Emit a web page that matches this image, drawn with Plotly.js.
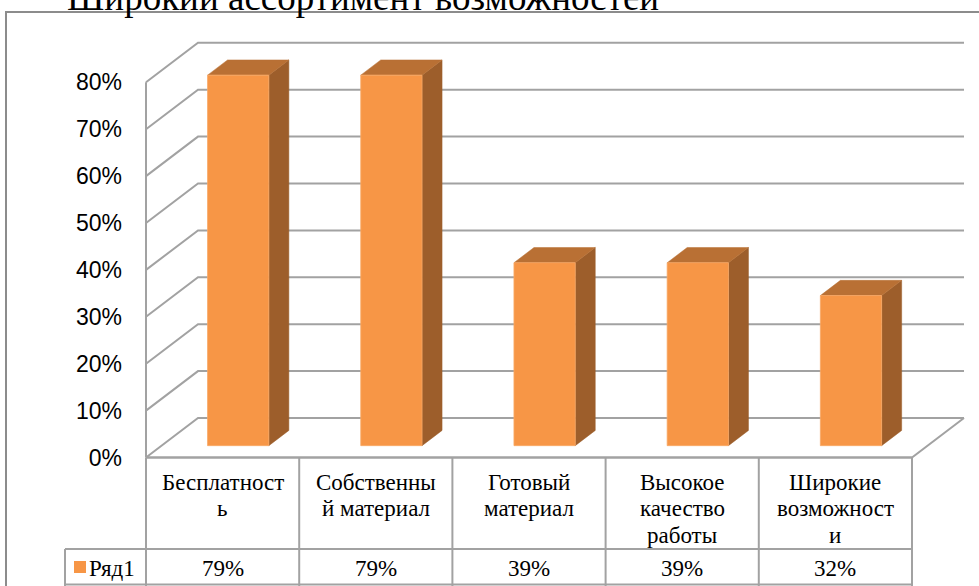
<!DOCTYPE html>
<html>
<head>
<meta charset="utf-8">
<script src="https://cdn.plot.ly/plotly-3.0.1.min.js"></script>
<style>
  html, body { margin: 0; padding: 0; background: #fff; }
  #chart { width: 979px; height: 586px; }
</style>
</head>
<body>
<div id="chart"></div>
<script>
// ---------------- data ----------------
const titleText = "Широкий ассортимент возможностей";
const categories = ["Бесплатность", "Собственный материал", "Готовый материал", "Высокое качество работы", "Широкие возможности"];
const categoryLabels = ["Бесплатност<br>ь", "Собственны<br>й материал", "Готовый<br>материал", "Высокое<br>качество<br>работы", "Широкие<br>возможност<br>и"];
const values = [79, 79, 39, 39, 32];
const seriesName = "Ряд1";
const yTickVals = [0, 10, 20, 30, 40, 50, 60, 70, 80];
const yTickText = ["0%", "10%", "20%", "30%", "40%", "50%", "60%", "70%", "80%"];

// ---------------- geometry / style ----------------
const W = 979, H = 586;
const FRONT_LEFT_PX = 146, CAT_PX = 153.2, ZERO_PY = 457.5, PCT_PX = 4.69;
const DEPTH_DX_PX = 52, DEPTH_DY_PX = 39.5;
const DX = DEPTH_DX_PX / CAT_PX;   // depth shift in category units
const DY = DEPTH_DY_PX / PCT_PX;   // depth shift in percent units
const BAR_W = 0.40, BAR_D0 = 0.30, BAR_D1 = 0.685;
const C_FRONT = "#F79646", C_SIDE = "#9D5E2B", C_TOP = "#B97034";
const GRID = "#a2a2a2";
const serif = "Liberation Serif, Times New Roman, serif";
const sans = "Liberation Sans, Arial, sans-serif";

const xFromPx = p => (p - FRONT_LEFT_PX) / CAT_PX - 0.5;
const yFromPy = p => (ZERO_PY - p) / PCT_PX;
const pxX = p => p / W;
const pxY = p => 1 - p / H;
const n = categories.length;
const yMax = yTickVals[yTickVals.length - 1];

// ---------------- walls / gridlines ----------------
const gx = [], gy = [];
yTickVals.forEach(v => {
  gx.push(-0.5, -0.5 + DX, n - 0.5 + DX, null);
  gy.push(v, v + DY, v + DY, null);
});
gx.push(-0.5, -0.5, null); gy.push(0, yMax, null);           // front vertical edge
gx.push(-0.5, n - 0.5, n - 0.5 + DX, null); gy.push(0, 0, DY, null); // floor front & right

const traces = [{
  type: "scatter", mode: "lines", x: gx, y: gy, hoverinfo: "skip",
  line: { color: GRID, width: 2 }, showlegend: false
}];

// ---------------- 3D bars ----------------
const fx = [], fy = [], sx = [], sy = [], tx = [], ty = [];
values.forEach((v, i) => {
  const xl0 = i - BAR_W / 2 + BAR_D0 * DX, xr0 = i + BAR_W / 2 + BAR_D0 * DX;
  const xl1 = i - BAR_W / 2 + BAR_D1 * DX, xr1 = i + BAR_W / 2 + BAR_D1 * DX;
  const b0 = BAR_D0 * DY, b1 = BAR_D1 * DY;
  fx.push(xl0, xr0, xr0, xl0, xl0, null); fy.push(b0, b0, v + b0, v + b0, b0, null);
  sx.push(xr0, xr1, xr1, xr0, xr0, null); sy.push(b0, b1, v + b1, v + b0, b0, null);
  tx.push(xl0, xr0, xr1, xl1, xl0, null); ty.push(v + b0, v + b0, v + b1, v + b1, v + b0, null);
});
traces.push({ type: "scatter", mode: "lines", x: sx, y: sy, fill: "toself", fillcolor: C_SIDE,
  line: { color: C_SIDE, width: 0.5 }, hoverinfo: "skip", showlegend: false });
traces.push({ type: "scatter", mode: "lines", x: tx, y: ty, fill: "toself", fillcolor: C_TOP,
  line: { color: C_TOP, width: 0.5 }, hoverinfo: "skip", showlegend: false });
traces.push({ type: "scatter", mode: "lines", x: fx, y: fy, fill: "toself", fillcolor: C_FRONT,
  line: { color: "#F9A866", width: 0.8 }, name: seriesName, hoverinfo: "skip", showlegend: false });

// ---------------- data table ----------------
const TABLE_TOP = ZERO_PY, ROW_SEP = 549, TABLE_BOT = 584.5, LEG_LEFT = 65;
const shapes = [];
const tline = { color: GRID, width: 2 };
shapes.push({ type: "line", xref: "x", yref: "paper", x0: -0.5, x1: n - 0.5, y0: pxY(TABLE_TOP), y1: pxY(TABLE_TOP), line: tline });
[ROW_SEP, TABLE_BOT].forEach(p => {
  shapes.push({ type: "line", xref: "paper", yref: "paper", x0: pxX(LEG_LEFT), x1: pxX(FRONT_LEFT_PX + CAT_PX * n), y0: pxY(p), y1: pxY(p), line: tline });
});
for (let i = 0; i <= n; i++) {
  shapes.push({ type: "line", xref: "x", yref: "paper", x0: i - 0.5, x1: i - 0.5, y0: pxY(TABLE_TOP), y1: pxY(H + 2), line: tline });
}
shapes.push({ type: "line", xref: "paper", yref: "paper", x0: pxX(LEG_LEFT), x1: pxX(LEG_LEFT), y0: pxY(ROW_SEP), y1: pxY(H + 2), line: tline });
shapes.push({ type: "rect", xref: "paper", yref: "paper", x0: pxX(74), x1: pxX(86), y0: pxY(573), y1: pxY(561), fillcolor: C_FRONT, line: { width: 0 } });
shapes.push({ type: "rect", xref: "paper", yref: "paper", x0: pxX(6), x1: pxX(W + 10), y0: pxY(H + 10), y1: pxY(12), line: { color: "#8c8c8c", width: 2 }, fillcolor: "rgba(0,0,0,0)", layer: "below" });

const annotations = [];
const serifCenter = (baseline, size) => pxY(baseline - 0.3375 * size);
const TSIZE = 23, LINE_STEP = 26.5, FIRST_BASE = 490, VAL_BASE = 576;
categoryLabels.forEach((lab, i) => {
  lab.split("<br>").forEach((ln, k) => {
    annotations.push({ xref: "x", yref: "paper", x: i, y: serifCenter(FIRST_BASE + k * LINE_STEP, TSIZE),
      text: ln, showarrow: false, xanchor: "center", yanchor: "middle", borderpad: 0,
      font: { family: serif, size: TSIZE, color: "#000" } });
  });
  annotations.push({ xref: "x", yref: "paper", x: i, y: serifCenter(VAL_BASE, TSIZE),
    text: values[i] + "%", showarrow: false, xanchor: "center", yanchor: "middle", borderpad: 0,
    font: { family: serif, size: TSIZE, color: "#000" } });
});
annotations.push({ xref: "paper", yref: "paper", x: pxX(88), y: serifCenter(VAL_BASE, TSIZE),
  text: seriesName, showarrow: false, xanchor: "left", yanchor: "middle", borderpad: 0,
  font: { family: serif, size: TSIZE, color: "#000" } });
annotations.push({ xref: "paper", yref: "paper", x: pxX(66), y: serifCenter(9.5, 37),
  text: titleText, showarrow: false, xanchor: "left", yanchor: "middle", borderpad: 0,
  font: { family: serif, size: 37, color: "#000" } });

const layout = {
  width: W, height: H,
  margin: { l: 0, r: 0, t: 0, b: 0, pad: 0 },
  paper_bgcolor: "#fff", plot_bgcolor: "rgba(0,0,0,0)",
  showlegend: false,
  xaxis: { range: [xFromPx(0), xFromPx(W)], visible: false, fixedrange: true },
  yaxis: {
    range: [yFromPy(H), yFromPy(0)], anchor: "free", position: FRONT_LEFT_PX / W,
    tickvals: yTickVals, ticktext: yTickText, ticks: "", showgrid: false, zeroline: false,
    showline: false, ticklabelstandoff: 24, fixedrange: true,
    tickfont: { family: sans, size: 23, color: "#000" }
  },
  shapes: shapes,
  annotations: annotations
};

Plotly.newPlot("chart", traces, layout, { staticPlot: true, displayModeBar: false });
</script>
</body>
</html>
